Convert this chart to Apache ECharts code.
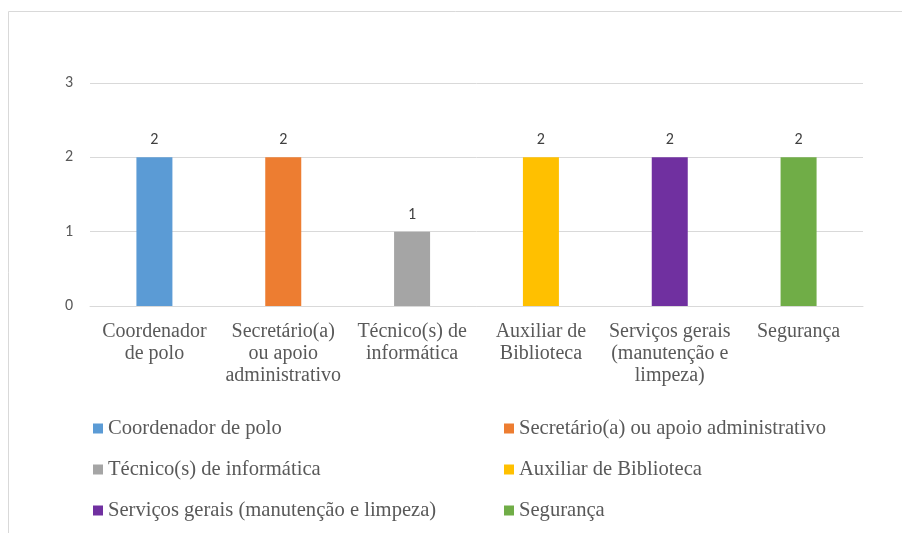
<!DOCTYPE html>
<html>
<head>
<meta charset="utf-8">
<script src="https://cdn.jsdelivr.net/npm/echarts@6/dist/echarts.min.js"></script>
<style>
  html, body { margin: 0; padding: 0; background: #fff; }
  #chart { width: 902px; height: 533px; }
</style>
</head>
<body>
<div id="chart"></div>
<script>
// categorias do eixo x (com quebras de linha como no original)
const categories = [
  "Coordenador de polo",
  "Secretário(a) ou apoio administrativo",
  "Técnico(s) de informática",
  "Auxiliar de Biblioteca",
  "Serviços gerais (manutenção e limpeza)",
  "Segurança"
];
const axisLabels = [
  "Coordenador\nde polo",
  "Secretário(a)\nou apoio\nadministrativo",
  "Técnico(s) de\ninformática",
  "Auxiliar de\nBiblioteca",
  "Serviços gerais\n(manutenção e\nlimpeza)",
  "Segurança"
];
const values = [2, 2, 1, 2, 2, 2];
const colors = ["#5B9BD5", "#ED7D31", "#A5A5A5", "#FFC000", "#7030A0", "#70AD47"];
const yTicks = [0, 1, 2, 3];

// uma série por categoria para ter a legenda colorida
const series = categories.map(function (name, i) {
  return {
    name: name,
    type: 'bar',
    stack: 'total',
    barWidth: 36,
    itemStyle: { color: colors[i] },
    label: {
      show: true,
      position: 'top',
      distance: 9,
      color: '#404040',
      fontFamily: 'Carlito, "Open Sans", sans-serif',
      fontSize: 16
    },
    data: values.map(function (v, j) { return j === i ? v : null; })
  };
});

const legendText = {
  color: '#595959',
  fontFamily: '"Liberation Serif", "DejaVu Serif", serif',
  fontSize: 20.6
};

let option = {
  animation: false,
  graphic: [{
    type: 'rect',
    shape: { x: 8.5, y: 11.5, width: 900, height: 530 },
    style: { fill: 'none', stroke: '#d9d9d9', lineWidth: 1 },
    silent: true
  }],
  grid: {
    left: 90,
    right: 39,
    top: 83,
    bottom: 227,
    containLabel: false
  },
  legend: [
    {
      orient: 'vertical',
      left: 93,
      top: 418,
      padding: 0,
      itemWidth: 10,
      itemHeight: 10,
      itemGap: 20,
      icon: 'rect',
      data: [categories[0], categories[2], categories[4]],
      textStyle: legendText
    },
    {
      orient: 'vertical',
      left: 504,
      top: 418,
      padding: 0,
      itemWidth: 10,
      itemHeight: 10,
      itemGap: 20,
      icon: 'rect',
      data: [categories[1], categories[3], categories[5]],
      textStyle: legendText
    }
  ],
  xAxis: {
    type: 'category',
    data: axisLabels,
    axisTick: { show: false },
    axisLine: { lineStyle: { color: '#d9d9d9' } },
    axisLabel: {
      interval: 0,
      margin: 15,
      color: '#595959',
      fontFamily: '"Liberation Serif", "DejaVu Serif", serif',
      fontSize: 20,
      lineHeight: 22
    }
  },
  yAxis: {
    type: 'value',
    min: 0,
    max: yTicks[yTicks.length - 1],
    interval: 1,
    axisLine: { show: false },
    axisTick: { show: false },
    axisLabel: {
      margin: 17,
      color: '#595959',
      fontFamily: 'Carlito, "Open Sans", sans-serif',
      fontSize: 16
    },
    splitLine: { lineStyle: { color: '#d9d9d9' } }
  },
  series: series
};

let chart = echarts.init(document.getElementById('chart'));
chart.setOption(option);
</script>
</body>
</html>
